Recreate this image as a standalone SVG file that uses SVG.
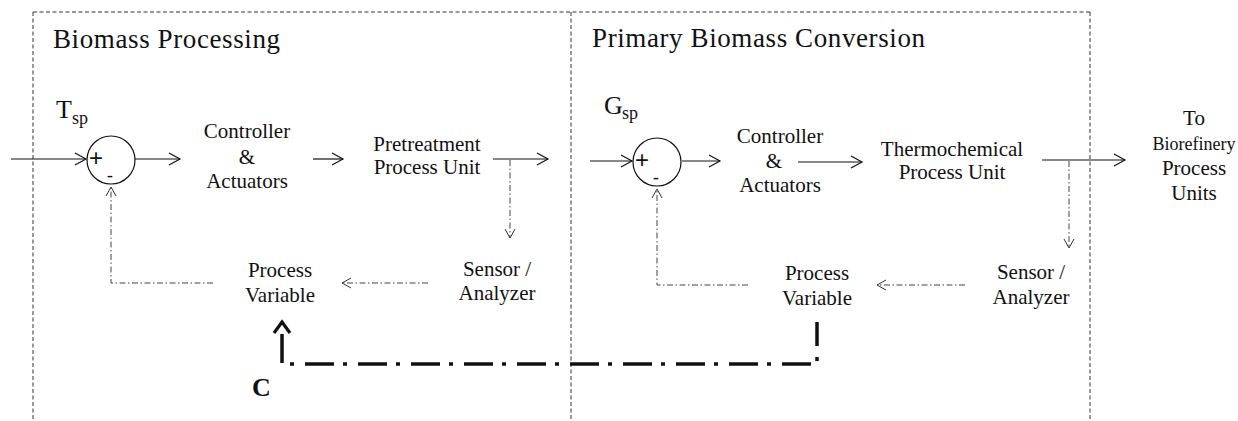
<svg xmlns="http://www.w3.org/2000/svg" width="1238" height="421" viewBox="0 0 1238 421">
<style>
  .t { font-family: "Liberation Serif", "Times New Roman", serif; font-size: 21px; fill: #111; text-anchor: middle; }
  .t18 { font-size: 18px; }
  .hdr { font-family: "Liberation Serif", "Times New Roman", serif; font-size: 27px; fill: #111; }
  .sym { font-family: "Liberation Serif", "Times New Roman", serif; font-size: 26px; fill: #111; }
  .sub { font-family: "Liberation Serif", "Times New Roman", serif; font-size: 18px; fill: #111; }
  .pm { font-family: "Liberation Sans", Arial, sans-serif; fill: #111; text-anchor: middle; }
  .bound { fill: none; stroke: #333; stroke-width: 1; stroke-dasharray: 4 2.5; }
  .solid { fill: none; stroke: #111; stroke-width: 1.2; marker-end: url(#open); }
  .dda { fill: none; stroke: #444; stroke-width: 1; stroke-dasharray: 6 2.5 1.5 2.5; marker-end: url(#openThin); }
  .thick { fill: none; stroke: #111; stroke-width: 3.5; stroke-dasharray: 29 9 4 11; }
</style>
<defs>
  <marker id="open" markerUnits="userSpaceOnUse" markerWidth="14" markerHeight="14" viewBox="0 0 14 14" refX="12" refY="7" orient="auto">
    <path d="M1,1 L12,7 L1,13" fill="none" stroke="#111" stroke-width="1.2"/>
  </marker>
  <marker id="openThin" markerUnits="userSpaceOnUse" markerWidth="12" markerHeight="12" viewBox="0 0 12 12" refX="10" refY="6" orient="auto">
    <path d="M1,1 L10,6 L1,11" fill="none" stroke="#333" stroke-width="1"/>
  </marker>
</defs>
<rect width="1238" height="421" fill="#fff"/>

<g id="boundaries">
  <path class="bound" d="M33,12 H1090"/>
  <path class="bound" d="M33,12 V421"/>
  <path class="bound" d="M571,12 V421"/>
  <path class="bound" d="M1090,12 V421"/>
</g>

<g id="section-biomass-processing">
  <text class="hdr" x="53" y="48" textLength="227">Biomass Processing</text>
</g>
<g id="section-primary-conversion">
  <text class="hdr" x="592" y="47" textLength="333">Primary Biomass Conversion</text>
</g>

<g id="sum1">
  <text class="sym" x="56" y="118">T</text><text class="sub" x="72" y="124">sp</text>
  <circle cx="111" cy="160" r="24" fill="none" stroke="#111" stroke-width="1.2"/>
  <text class="pm" x="96" y="166" font-size="24">+</text>
  <text class="pm" x="110" y="182" font-size="19">-</text>
</g>
<g id="controller1">
  <text class="t" x="247" y="138">Controller</text>
  <text class="t" x="247" y="164">&amp;</text>
  <text class="t" x="247" y="188">Actuators</text>
</g>
<g id="pretreatment">
  <text class="t" x="427" y="151">Pretreatment</text>
  <text class="t" x="427" y="174">Process Unit</text>
</g>
<g id="sensor1">
  <text class="t" x="497" y="276">Sensor /</text>
  <text class="t" x="497" y="300">Analyzer</text>
</g>
<g id="pv1">
  <text class="t" x="280" y="277">Process</text>
  <text class="t" x="280" y="302">Variable</text>
</g>
<g id="c-label">
  <text x="252" y="396" font-family="Liberation Serif, Times New Roman, serif" font-size="26" font-weight="bold" fill="#111">C</text>
</g>

<g id="sum2">
  <text class="sym" x="604" y="114">G</text><text class="sub" x="622" y="119">sp</text>
  <circle cx="657" cy="162" r="24" fill="none" stroke="#111" stroke-width="1.2"/>
  <text class="pm" x="642" y="168" font-size="24">+</text>
  <text class="pm" x="656" y="184" font-size="19">-</text>
</g>
<g id="controller2">
  <text class="t" x="780" y="143">Controller</text>
  <text class="t" x="774" y="168">&amp;</text>
  <text class="t" x="780" y="192">Actuators</text>
</g>
<g id="thermochemical">
  <text class="t" x="952" y="156">Thermochemical</text>
  <text class="t" x="952" y="179">Process Unit</text>
</g>
<g id="sensor2">
  <text class="t" x="1031" y="279">Sensor /</text>
  <text class="t" x="1031" y="304">Analyzer</text>
</g>
<g id="pv2">
  <text class="t" x="817" y="280">Process</text>
  <text class="t" x="817" y="305">Variable</text>
</g>
<g id="biorefinery">
  <text class="t" x="1194" y="125">To</text>
  <text class="t t18" x="1194" y="150">Biorefinery</text>
  <text class="t" x="1194" y="175">Process</text>
  <text class="t" x="1194" y="200">Units</text>
</g>

<g id="connectors">
  <path class="solid" d="M11,159 H86"/>
  <path class="solid" d="M135,159 H180"/>
  <path class="solid" d="M313,159 H343"/>
  <path class="solid" d="M493,159 H548"/>
  <path class="dda" d="M510,160 V238"/>
  <path class="dda" d="M428,283 H342"/>
  <path class="dda" d="M213,283 H111 V187"/>

  <path class="solid" d="M590,161 H632"/>
  <path class="solid" d="M682,161 H720"/>
  <path class="solid" d="M798,162 H862"/>
  <path class="solid" d="M1042,160 H1125"/>
  <path class="dda" d="M1069,161 V248"/>
  <path class="dda" d="M965,285 H877"/>
  <path class="dda" d="M748,285 H657 V189"/>

  <path class="thick" d="M282,334 V364 H817 V322"/>
  <path d="M274,333 L282,322 L290,333" fill="none" stroke="#111" stroke-width="3.2"/>
</g>
</svg>
